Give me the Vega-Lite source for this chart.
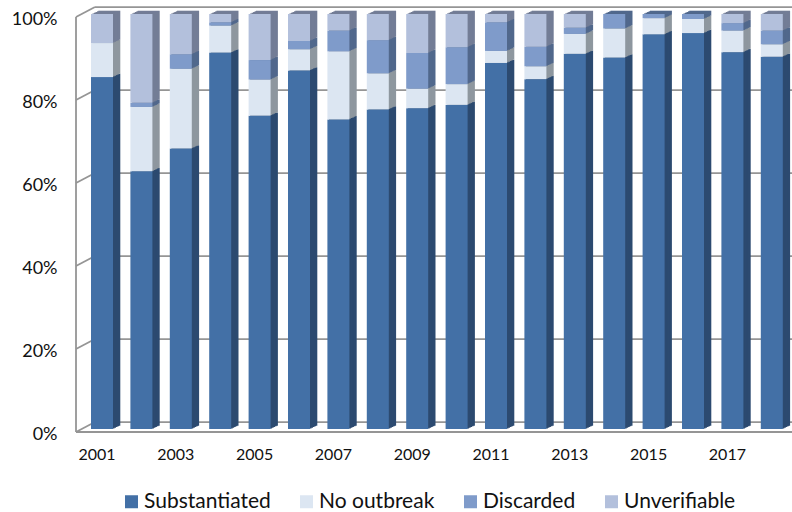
{"$schema":"https://vega.github.io/schema/vega-lite/v6.json","width":716,"height":415,"autosize":{"type":"none"},"padding":{"left":76,"top":17,"right":0,"bottom":80},"background":"white","config":{"view":{"stroke":null},"font":"Lato"},
"datasets":{"wall":[{"x":0,"x2":0,"y":0,"y2":100},{"x":0,"x2":1,"y":0,"y2":0},{"x":0,"x2":0.0265,"y":0,"y2":2.4},{"x":0,"x2":0.0265,"y":20,"y2":22.4},{"x":0,"x2":0.0265,"y":40,"y2":42.4},{"x":0,"x2":0.0265,"y":60,"y2":62.4},{"x":0,"x2":0.0265,"y":80,"y2":82.4},{"x":0,"x2":0.0265,"y":100,"y2":102.4},{"x":0.0265,"x2":1,"y":2.4,"y2":2.4},{"x":0.0265,"x2":1,"y":22.4,"y2":22.4},{"x":0.0265,"x2":1,"y":42.4,"y2":42.4},{"x":0.0265,"x2":1,"y":62.4,"y2":62.4},{"x":0.0265,"x2":1,"y":82.4,"y2":82.4},{"x":0.0265,"x2":1,"y":102.4,"y2":102.4}],
"bars":[
{"year":"2001","series":"Substantiated","k":1,"v":84.8},{"year":"2001","series":"No outbreak","k":2,"v":8.2},{"year":"2001","series":"Discarded","k":3,"v":0},{"year":"2001","series":"Unverifiable","k":4,"v":7.0},
{"year":"2002","series":"Substantiated","k":1,"v":62.1},{"year":"2002","series":"No outbreak","k":2,"v":15.5},{"year":"2002","series":"Discarded","k":3,"v":1.0},{"year":"2002","series":"Unverifiable","k":4,"v":21.4},
{"year":"2003","series":"Substantiated","k":1,"v":67.6},{"year":"2003","series":"No outbreak","k":2,"v":19.2},{"year":"2003","series":"Discarded","k":3,"v":3.5},{"year":"2003","series":"Unverifiable","k":4,"v":9.7},
{"year":"2004","series":"Substantiated","k":1,"v":90.7},{"year":"2004","series":"No outbreak","k":2,"v":6.5},{"year":"2004","series":"Discarded","k":3,"v":0.8},{"year":"2004","series":"Unverifiable","k":4,"v":2.0},
{"year":"2005","series":"Substantiated","k":1,"v":75.5},{"year":"2005","series":"No outbreak","k":2,"v":8.7},{"year":"2005","series":"Discarded","k":3,"v":4.7},{"year":"2005","series":"Unverifiable","k":4,"v":11.1},
{"year":"2006","series":"Substantiated","k":1,"v":86.4},{"year":"2006","series":"No outbreak","k":2,"v":5.1},{"year":"2006","series":"Discarded","k":3,"v":2.0},{"year":"2006","series":"Unverifiable","k":4,"v":6.5},
{"year":"2007","series":"Substantiated","k":1,"v":74.6},{"year":"2007","series":"No outbreak","k":2,"v":16.4},{"year":"2007","series":"Discarded","k":3,"v":5.0},{"year":"2007","series":"Unverifiable","k":4,"v":4.0},
{"year":"2008","series":"Substantiated","k":1,"v":77.0},{"year":"2008","series":"No outbreak","k":2,"v":8.7},{"year":"2008","series":"Discarded","k":3,"v":8.0},{"year":"2008","series":"Unverifiable","k":4,"v":6.3},
{"year":"2009","series":"Substantiated","k":1,"v":77.3},{"year":"2009","series":"No outbreak","k":2,"v":4.7},{"year":"2009","series":"Discarded","k":3,"v":8.6},{"year":"2009","series":"Unverifiable","k":4,"v":9.4},
{"year":"2010","series":"Substantiated","k":1,"v":78.1},{"year":"2010","series":"No outbreak","k":2,"v":5.0},{"year":"2010","series":"Discarded","k":3,"v":8.9},{"year":"2010","series":"Unverifiable","k":4,"v":8.0},
{"year":"2011","series":"Substantiated","k":1,"v":88.2},{"year":"2011","series":"No outbreak","k":2,"v":2.9},{"year":"2011","series":"Discarded","k":3,"v":6.9},{"year":"2011","series":"Unverifiable","k":4,"v":2.0},
{"year":"2012","series":"Substantiated","k":1,"v":84.3},{"year":"2012","series":"No outbreak","k":2,"v":3.1},{"year":"2012","series":"Discarded","k":3,"v":4.7},{"year":"2012","series":"Unverifiable","k":4,"v":7.9},
{"year":"2013","series":"Substantiated","k":1,"v":90.4},{"year":"2013","series":"No outbreak","k":2,"v":4.8},{"year":"2013","series":"Discarded","k":3,"v":1.5},{"year":"2013","series":"Unverifiable","k":4,"v":3.3},
{"year":"2014","series":"Substantiated","k":1,"v":89.5},{"year":"2014","series":"No outbreak","k":2,"v":7.0},{"year":"2014","series":"Discarded","k":3,"v":3.5},{"year":"2014","series":"Unverifiable","k":4,"v":0},
{"year":"2015","series":"Substantiated","k":1,"v":95.1},{"year":"2015","series":"No outbreak","k":2,"v":3.9},{"year":"2015","series":"Discarded","k":3,"v":1.0},{"year":"2015","series":"Unverifiable","k":4,"v":0},
{"year":"2016","series":"Substantiated","k":1,"v":95.4},{"year":"2016","series":"No outbreak","k":2,"v":3.4},{"year":"2016","series":"Discarded","k":3,"v":1.2},{"year":"2016","series":"Unverifiable","k":4,"v":0},
{"year":"2017","series":"Substantiated","k":1,"v":90.8},{"year":"2017","series":"No outbreak","k":2,"v":5.2},{"year":"2017","series":"Discarded","k":3,"v":1.8},{"year":"2017","series":"Unverifiable","k":4,"v":2.2},
{"year":"2018","series":"Substantiated","k":1,"v":89.7},{"year":"2018","series":"No outbreak","k":2,"v":3.0},{"year":"2018","series":"Discarded","k":3,"v":3.3},{"year":"2018","series":"Unverifiable","k":4,"v":4.0}]},
"resolve":{"scale":{"x":"independent","color":"independent"},"axis":{"x":"independent","y":"independent"}},
"layer":[
{"data":{"name":"wall"},"mark":{"type":"rule","color":"#959595","strokeWidth":1.8},"encoding":{"x":{"field":"x","type":"quantitative","scale":{"domain":[0,1],"nice":false,"zero":false},"axis":null},"x2":{"field":"x2"},"y":{"field":"y","type":"quantitative","scale":{"domain":[0,100],"nice":false},"axis":{"values":[0,20,40,60,80,100],"labelExpr":"datum.value+'%'","title":null,"domain":false,"ticks":false,"grid":false,"labelFontSize":18,"labelColor":"#111111","labelPadding":19,"labelOffset":2}},"y2":{"field":"y2"}}},
{"data":{"name":"bars"},
"encoding":{"x":{"field":"year","type":"ordinal","scale":{"type":"band","range":[6.3,715.5],"paddingInner":0,"paddingOuter":0},"axis":null},
"y":{"field":"v","type":"quantitative","stack":"zero","scale":{"domain":[0,100],"nice":false},"axis":null},
"order":{"field":"k","type":"ordinal"},
"color":{"field":"series","type":"nominal","legend":null,"scale":{"domain":["Substantiated","No outbreak","Discarded","Unverifiable"],"range":["#2c4a70","#8e979f","#51688c","#737d96"]}}},
"layer":[
{"mark":{"type":"bar","width":22,"xOffset":7.3,"x2Offset":7.3,"yOffset":-6.3,"y2Offset":-6.3}},
{"mark":{"type":"bar","width":22,"xOffset":6,"x2Offset":6,"yOffset":-5.7,"y2Offset":-5.7}},
{"mark":{"type":"bar","width":22,"xOffset":4.5,"x2Offset":4.5,"yOffset":-5,"y2Offset":-5}},
{"mark":{"type":"bar","width":22,"xOffset":3,"x2Offset":3,"yOffset":-4.3,"y2Offset":-4.3}},
{"mark":{"type":"bar","width":22,"xOffset":1.5,"x2Offset":1.5,"yOffset":-3.6,"y2Offset":-3.6}}]},
{"data":{"name":"bars"},"mark":{"type":"bar","width":22,"yOffset":-3,"y2Offset":-3},
"encoding":{"x":{"field":"year","type":"ordinal","scale":{"type":"band","range":[6.3,715.5],"paddingInner":0,"paddingOuter":0},"axis":{"values":["2001","2003","2005","2007","2009","2011","2013","2015","2017"],"title":null,"domain":false,"ticks":false,"labelAngle":0,"labelOffset":-5,"labelFontSize":16,"labelColor":"#111111","labelPadding":14}},
"y":{"field":"v","type":"quantitative","stack":"zero","scale":{"domain":[0,100],"nice":false},"axis":null},
"order":{"field":"k","type":"ordinal"},
"color":{"field":"series","type":"nominal","scale":{"domain":["Substantiated","No outbreak","Discarded","Unverifiable"],"range":["#4370a6","#dce6f2","#7f9bca","#b3c0dc"]},
"legend":{"orient":"none","legendX":45,"legendY":474,"direction":"horizontal","columns":4,"title":null,"symbolType":"square","symbolSize":169,"symbolStrokeWidth":0,"labelFontSize":21,"labelColor":"#111111","columnPadding":25,"labelOffset":2}}}}
]}
